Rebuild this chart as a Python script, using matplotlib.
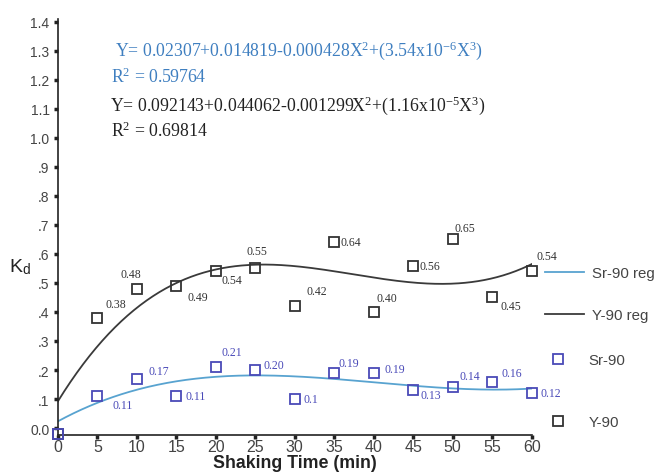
import numpy as np
import matplotlib
matplotlib.use("Agg")
import matplotlib.pyplot as plt
from matplotlib.lines import Line2D

plt.rcParams['font.family'] = ['Liberation Sans', 'DejaVu Sans']
plt.rcParams['mathtext.fontset'] = 'custom'
plt.rcParams['mathtext.rm'] = 'Liberation Serif'
plt.rcParams['mathtext.it'] = 'Liberation Serif:italic'

# datos
tiempo = [0, 5, 10, 15, 20, 25, 30, 35, 40, 45, 50, 55, 60]
kd_y90 = [-0.02, 0.38, 0.48, 0.49, 0.54, 0.55, 0.42, 0.64, 0.40, 0.56, 0.65, 0.45, 0.54]
kd_sr90 = [-0.02, 0.11, 0.17, 0.11, 0.21, 0.20, 0.1, 0.19, 0.19, 0.13, 0.14, 0.16, 0.12]
etiq_y90 = ["", "0.38", "0.48", "0.49", "0.54", "0.55", "0.42", "0.64", "0.40", "0.56", "0.65", "0.45", "0.54"]
etiq_sr90 = ["", "0.11", "0.17", "0.11", "0.21", "0.20", "0.1", "0.19", "0.19", "0.13", "0.14", "0.16", "0.12"]

# coeficientes de las regresiones (del texto de la grafica)
coef_sr90 = [0.02307, 0.014819, -0.000428, 3.54e-6]
coef_y90 = [0.092143, 0.044062, -0.001299, 1.16e-5]

# desplazamientos de las etiquetas (pixeles)
off_y90 = [(0, 0), (18, 14), (-6, 15), (21, -11), (16, -9), (2, 17), (22, 15),
           (17, 0), (13, 14), (17, 0), (12, 11), (19, -9), (15, 15)]
off_sr90 = [(0, 0), (25, -9), (22, 8), (19, 0), (16, 15), (19, 5), (16, 0),
            (15, 10), (21, 4), (18, -5), (17, 11), (20, 9), (19, 0)]

AZUL_LINEA = "#58a3d0"
AZUL_PUNTO = "#4a4ab8"
AZUL_TEXTO = "#3f7fc0"
NEGRO = "#333333"

fig = plt.figure(figsize=(6.58, 4.77), dpi=100)
ax = fig.add_axes([0.088, 0.086, 0.720, 0.872])

xs = np.linspace(0, 60, 300)
reg_sr = sum(c * xs**i for i, c in enumerate(coef_sr90))
reg_y = sum(c * xs**i for i, c in enumerate(coef_y90))
ax.plot(xs, reg_sr, color=AZUL_LINEA, lw=1.3)
ax.plot(xs, reg_y, color="#3a3a3a", lw=1.3)

ax.plot(tiempo, kd_y90, "s", ms=7, mfc="none", mec=NEGRO, mew=1.3, clip_on=False, zorder=3)
ax.plot(tiempo, kd_sr90, "s", ms=7, mfc="none", mec=AZUL_PUNTO, mew=1.3, clip_on=False, zorder=3)

for t, v, s, o in zip(tiempo, kd_y90, etiq_y90, off_y90):
    if s:
        ax.annotate(s, (t, v), xytext=o, textcoords="offset pixels", ha="center", va="center",
                    fontsize=8.5, family="Liberation Serif", color=NEGRO)
for t, v, s, o in zip(tiempo, kd_sr90, etiq_sr90, off_sr90):
    if s:
        ax.annotate(s, (t, v), xytext=o, textcoords="offset pixels", ha="center", va="center",
                    fontsize=8.5, family="Liberation Serif", color=AZUL_PUNTO)

# ecuaciones
ax.text(0.12, 0.925, r"Y= 0.02307+0.014819-0.000428X$^2$+(3.54x10$^{-6}$X$^3$)", transform=ax.transAxes,
        fontsize=12.8, family="Liberation Serif", color=AZUL_TEXTO, va="center")
ax.text(0.112, 0.862, r"R$^2$ = 0.59764", transform=ax.transAxes,
        fontsize=12.8, family="Liberation Serif", color=AZUL_TEXTO, va="center")
ax.text(0.11, 0.795, r"Y= 0.092143+0.044062-0.001299X$^2$+(1.16x10$^{-5}$X$^3$)", transform=ax.transAxes,
        fontsize=12.8, family="Liberation Serif", color="#222222", va="center")
ax.text(0.112, 0.732, r"R$^2$ = 0.69814", transform=ax.transAxes,
        fontsize=12.8, family="Liberation Serif", color="#222222", va="center")

ax.set_xlim(0, 60)
ax.set_ylim(-0.024, 1.41)
ax.set_xticks(range(0, 61, 5))
yt = np.round(np.arange(0, 1.41, 0.1), 1)
ax.set_yticks(yt)
ax.set_yticklabels(["0.0"] + [(".%d" % round(v * 10)) for v in yt[1:10]] + ["%.1f" % v for v in yt[10:]])
ax.tick_params(axis="both", direction="out", length=3, width=2.5, color="#222222",
               labelsize=10, labelcolor="#444444", pad=3)
ax.tick_params(axis="x", labelsize=11.5, pad=0)
for lado in ["top", "right"]:
    ax.spines[lado].set_visible(False)
for lado in ["left", "bottom"]:
    ax.spines[lado].set_color("#222222")
    ax.spines[lado].set_linewidth(1.2)

ax.set_xlabel("Shaking Time (min)", fontsize=12.8, fontweight="bold", color="#222222", labelpad=0)
fig.text(0.014, 0.44, r"K$_\mathregular{d}$", fontsize=14, color="#222222", ha="left", va="center",
         family="Liberation Sans")

# leyenda en dos bloques (espaciado distinto)
h_lineas = [Line2D([], [], color=AZUL_LINEA, lw=1.3),
            Line2D([], [], color="#3a3a3a", lw=1.3)]
h_puntos = [Line2D([], [], ls="none", marker="s", ms=7, mfc="none", mec=AZUL_PUNTO, mew=1.3),
            Line2D([], [], ls="none", marker="s", ms=7, mfc="none", mec=NEGRO, mew=1.3)]
leg1 = fig.legend(h_lineas, ["Sr-90 reg", "Y-90 reg"], loc="upper left", bbox_to_anchor=(0.828, 0.44),
                  frameon=False, fontsize=10.8, labelspacing=1.85, handlelength=2.6, handletextpad=0.55,
                  borderaxespad=0, borderpad=0, labelcolor="#444444")
leg2 = fig.legend(h_puntos, ["Sr-90", "Y-90"], loc="upper left", bbox_to_anchor=(0.828, 0.258),
                  frameon=False, fontsize=10.8, labelspacing=3.2, handlelength=1.8, handletextpad=1.1,
                  borderaxespad=0, borderpad=0, labelcolor="#444444")

plt.savefig("out.png", dpi=100)
